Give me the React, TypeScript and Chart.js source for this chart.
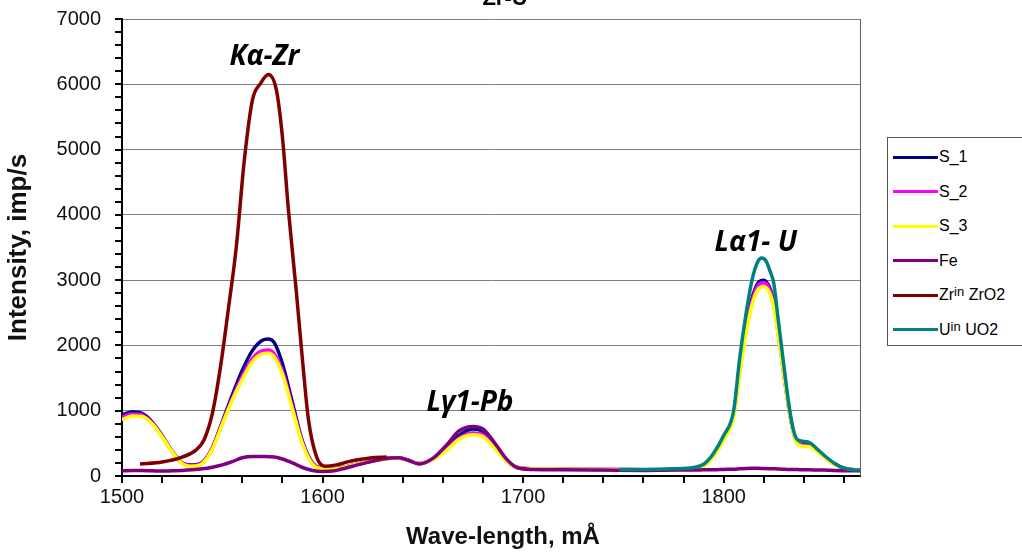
import React, { useEffect, useRef } from "react";
import { Chart, registerables } from "chart.js";

Chart.register(...registerables);

// ---------- data ----------
const wavelengths = [
  1500, 1505, 1510, 1515, 1520, 1525, 1530, 1535, 1540, 1545, 1550, 1555, 1560, 1565, 1570, 1573, 1576, 1580, 1585, 1590, 1595, 1600, 1605, 1610,
  1620, 1630, 1638, 1643, 1648, 1655, 1662, 1668, 1675, 1680, 1686, 1692, 1697, 1705, 1720, 1740, 1760,
  1775, 1785, 1790, 1795, 1800, 1805, 1808, 1811, 1814, 1817, 1820, 1823, 1825, 1827, 1829, 1831, 1833, 1835, 1837, 1840, 1843, 1846, 1850, 1855, 1860, 1865, 1868,
];

const s1 = [
  940, 980, 960, 830, 620, 380, 200, 170, 210, 430, 830, 1240, 1620, 1920, 2080, 2100, 2040, 1720, 1120, 530, 200, 120, 105, 130,
  200, 260, 280, 240, 190, 260, 430, 620, 720, 680, 470, 230, 130, 110, 105, 100, 95,
  100, 120, 160, 320, 580, 950, 1650, 2250, 2700, 2950, 3000, 2880, 2650, 2250, 1800, 1350, 950, 650, 500, 480, 470, 400, 300, 190, 120, 95, 90,
];

const s2 = [
  900, 950, 935, 815, 610, 375, 195, 160, 200, 420, 810, 1190, 1530, 1800, 1920, 1930, 1870, 1610, 1060, 510, 190, 115, 100, 128,
  200, 258, 278, 238, 190, 255, 410, 580, 660, 630, 440, 225, 130, 110, 105, 100, 95,
  100, 118, 155, 310, 570, 940, 1620, 2220, 2660, 2910, 2960, 2850, 2620, 2230, 1790, 1340, 950, 650, 495, 470, 460, 395, 295, 185, 120, 95, 90,
];

const s3 = [
  860, 920, 910, 800, 600, 370, 190, 150, 190, 410, 790, 1160, 1480, 1750, 1870, 1880, 1820, 1560, 1020, 490, 180, 110, 100, 125,
  200, 255, 275, 235, 190, 250, 400, 560, 630, 600, 420, 220, 130, 110, 105, 100, 95,
  100, 115, 150, 300, 550, 900, 1560, 2150, 2600, 2850, 2900, 2800, 2580, 2200, 1770, 1330, 940, 640, 480, 455, 445, 385, 290, 180, 115, 95, 90,
];

const fe = [
  80, 85, 85, 80, 75, 80, 85, 95, 110, 135, 170, 220, 280, 300, 300, 295, 290, 260, 200, 130, 85, 70, 75, 110,
  190, 260, 278, 238, 185, 270, 480, 690, 760, 720, 500, 250, 130, 100, 95, 90, 85,
  90, 90, 95, 95, 100, 105, 110, 115, 118, 118, 115, 112, 110, 108, 105, 102, 100, 100, 98, 95, 95, 92, 90, 85, 82, 80, 80,
];

const zrWavelengths = [1509, 1520, 1530, 1537, 1541, 1545, 1549, 1553, 1557, 1561, 1565, 1569, 1573, 1577, 1580, 1583, 1587, 1590, 1593, 1597, 1601, 1607, 1613, 1620, 1626, 1632];
const zrValues = [185, 215, 290, 400, 560, 950, 1650, 2550, 3510, 4840, 5755, 6010, 6150, 5910, 5190, 4070, 2800, 1775, 857, 296, 150, 170, 220, 260, 285, 290];

const uWavelengths = [1748, 1760, 1775, 1785, 1790, 1795, 1800, 1805, 1808, 1811, 1814, 1817, 1819, 1821, 1823, 1825, 1827, 1829, 1831, 1833, 1835, 1837, 1840, 1843, 1846, 1850, 1855, 1860, 1865, 1868];
const uValues = [100, 100, 110, 130, 180, 350, 620, 1000, 1800, 2450, 2980, 3280, 3340, 3300, 3150, 2950, 2450, 1950, 1450, 1000, 680, 550, 530, 510, 430, 320, 200, 120, 95, 90];

const seriesNames = ["S_1", "S_2", "S_3", "Fe", "Zr in ZrO2", "U in UO2"];
const seriesColors = ["#000080", "#ff00ff", "#ffff00", "#800080", "#800000", "#008080"];
const legendLabels = [
  { main: "S_1" },
  { main: "S_2" },
  { main: "S_3" },
  { main: "Fe" },
  { main: "Zr", sup: "in", rest: " ZrO2" },
  { main: "U", sup: "in", rest: " UO2" },
];

const xTicks = [1500, 1600, 1700, 1800];
const yTicks = [0, 1000, 2000, 3000, 4000, 5000, 6000, 7000];
const xMin = 1500;
const xMax = 1868;
const xMinorStep = 20;
const yMinorStep = 200;

const peakLabels = [
  { text: "Kα-Zr", x: 1571, y: 6420 },
  { text: "Lγ1-Pb", x: 1673.5, y: 1120 },
  { text: "Lα1- U", x: 1816, y: 3570 },
];

const chartTitle = "Zr-U";
const xAxisTitle = "Wave-length, mÅ";
const yAxisTitle = "Intensity, imp/s";

// ---------- helpers ----------
const pts = (xs: number[], ys: number[]) => xs.map((x, i) => ({ x, y: ys[i] }));

const FONT = '"Liberation Sans", Arial, sans-serif';

const decorPlugin = {
  id: "decor",
  afterDraw(chart: any) {
    const { ctx, chartArea, scales } = chart;
    const { left, right, top, bottom } = chartArea;
    const x = scales.x;
    const y = scales.y;
    ctx.save();
    // right border
    ctx.strokeStyle = "#606060";
    ctx.lineWidth = 1;
    ctx.beginPath();
    ctx.moveTo(Math.round(right) + 0.5, top);
    ctx.lineTo(Math.round(right) + 0.5, bottom);
    ctx.stroke();
    // ticks (major + minor)
    ctx.strokeStyle = "#000";
    ctx.lineWidth = 2;
    ctx.beginPath();
    for (let v = 0; v <= 7000; v += yMinorStep) {
      const py = Math.round(y.getPixelForValue(v));
      ctx.moveTo(left - 7, py);
      ctx.lineTo(left, py);
    }
    for (let v = xMin; v <= xMax; v += xMinorStep) {
      const px = Math.round(x.getPixelForValue(v));
      ctx.moveTo(px, bottom);
      ctx.lineTo(px, bottom + 7);
    }
    ctx.stroke();
    // peak labels
    ctx.fillStyle = "#000";
    ctx.textAlign = "center";
    ctx.textBaseline = "middle";
    ctx.font = 'italic bold 28px "Open Sans", sans-serif';
    for (const p of peakLabels) {
      ctx.fillText(p.text, x.getPixelForValue(p.x), y.getPixelForValue(p.y));
    }
    // x axis title (slightly right of plot centre, as in the original)
    ctx.fillStyle = "#111";
    ctx.font = `bold 24px ${FONT}`;
    ctx.fillText(xAxisTitle, 503, 537);
    // cut-off chart title
    ctx.fillStyle = "#000";
    ctx.font = `bold 22px ${FONT}`;
    ctx.textBaseline = "alphabetic";
    ctx.fillText(chartTitle, 505, 5);
    ctx.restore();
  },
};

export default function App() {
  const ref = useRef<HTMLCanvasElement | null>(null);

  useEffect(() => {
    if (!ref.current) return;
    const series = [
      pts(wavelengths, s1),
      pts(wavelengths, s2),
      pts(wavelengths, s3),
      pts(wavelengths, fe),
      pts(zrWavelengths, zrValues),
      pts(uWavelengths, uValues),
    ];
    const orders = [6, 5, 4, 3, 2, 1];
    const chart = new Chart(ref.current, {
      type: "line",
      data: {
        datasets: series.map((d, i) => ({
          label: seriesNames[i],
          data: d,
          borderColor: seriesColors[i],
          backgroundColor: seriesColors[i],
          borderWidth: 3.5,
          pointRadius: 0,
          cubicInterpolationMode: "monotone",
          fill: false,
          order: orders[i],
        })),
      },
      options: {
        animation: false,
        responsive: false,
        maintainAspectRatio: false,
        layout: { padding: { left: 0, right: 162, top: 19, bottom: 0 } },
        plugins: {
          legend: { display: false },
          tooltip: { enabled: false },
          title: { display: false },
        },
        scales: {
          x: {
            type: "linear",
            min: xMin,
            max: xMax,
            afterBuildTicks: (s: any) => {
              s.ticks = xTicks.map((v) => ({ value: v }));
            },
            afterFit: (s: any) => {
              s.height = 77;
              s.paddingLeft = 0;
              s.paddingRight = 0;
            },
            ticks: {
              autoSkip: false,
              maxRotation: 0,
              padding: 9,
              color: "#111",
              font: { family: FONT, size: 20 },
              callback: (v: any) => String(v),
            },
            grid: { drawOnChartArea: false, drawTicks: false },
            border: { display: true, color: "#000", width: 2 },
            title: { display: false },
          },
          y: {
            type: "linear",
            min: 0,
            max: 7000,
            afterBuildTicks: (s: any) => {
              s.ticks = yTicks.map((v) => ({ value: v }));
            },
            afterFit: (s: any) => {
              s.width = 122;
              s.paddingTop = 0;
              s.paddingBottom = 0;
            },
            ticks: {
              padding: 21,
              color: "#111",
              font: { family: FONT, size: 20 },
              callback: (v: any) => String(v),
            },
            grid: { color: "#808080", lineWidth: 1, drawTicks: false },
            border: { display: true, color: "#000", width: 2 },
            title: {
              display: true,
              text: yAxisTitle,
              color: "#111",
              font: { family: FONT, size: 26, weight: "bold" },
              padding: { top: 3, bottom: 0 },
            },
          },
        },
      },
      plugins: [decorPlugin],
    } as any);
    return () => chart.destroy();
  }, []);

  return (
    <div
      style={{
        position: "fixed",
        left: 0,
        top: 0,
        width: 1022,
        height: 553,
        overflow: "hidden",
        background: "#fff",
      }}
    >
      <canvas ref={ref} width={1022} height={553} style={{ position: "absolute", left: 0, top: 0 }} />
      <div
        style={{
          position: "absolute",
          left: 887,
          top: 137,
          width: 150,
          height: 207,
          border: "1px solid #555",
          background: "#fff",
          fontFamily: FONT,
          fontSize: 16,
          color: "#000",
        }}
      >
        {legendLabels.map((l, i) => (
          <div
            key={i}
            style={{
              position: "absolute",
              left: 5,
              top: 19 + i * 34.5 - 10,
              height: 20,
              display: "flex",
              alignItems: "center",
              whiteSpace: "nowrap",
            }}
          >
            <span
              style={{
                display: "inline-block",
                width: 45,
                height: 0,
                borderTop: `3px solid ${seriesColors[i]}`,
              }}
            />
            <span style={{ marginLeft: 1 }}>
              {l.main}
              {l.sup ? (
                <span style={{ fontSize: 13, position: "relative", top: -4 }}>{l.sup}</span>
              ) : null}
              {l.rest ? l.rest : null}
            </span>
          </div>
        ))}
      </div>
    </div>
  );
}
